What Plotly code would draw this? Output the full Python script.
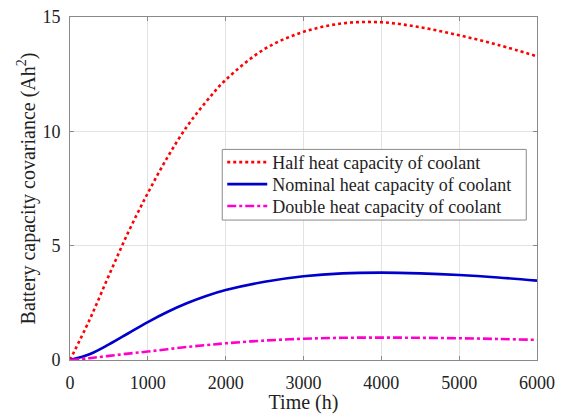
import plotly.graph_objects as go

time_h = [0, 250, 500, 750, 1000, 1250, 1500, 1750, 2000, 2500, 3000, 3500, 4000, 4500, 5000, 5500, 6000]
half_cov = [0, 1.75, 3.7, 5.6, 7.3, 8.85, 10.2, 11.3, 12.25, 13.6, 14.35, 14.72, 14.77, 14.55, 14.2, 13.78, 13.28]
nominal_cov = [0, 0.25, 0.68, 1.17, 1.66, 2.1, 2.48, 2.8, 3.06, 3.42, 3.66, 3.79, 3.82, 3.79, 3.72, 3.61, 3.47]
double_cov = [0, 0.08, 0.18, 0.28, 0.37, 0.47, 0.57, 0.65, 0.73, 0.85, 0.93, 0.97, 0.98, 0.97, 0.95, 0.92, 0.88]

series_names = ["Half heat capacity of coolant",
                "Nominal heat capacity of coolant",
                "Double heat capacity of coolant"]

x_ticks = [0, 1000, 2000, 3000, 4000, 5000, 6000]
y_ticks = [0, 5, 10, 15]

serif = "Liberation Serif, Times New Roman, serif"

fig = go.Figure()
fig.add_trace(go.Scatter(x=time_h, y=half_cov, mode="lines", line_shape="spline",
                         name=series_names[0], legend="legend",
                         line=dict(color="#ff0000", width=2.6, dash="dot")))
fig.add_trace(go.Scatter(x=time_h, y=nominal_cov, mode="lines", line_shape="spline",
                         name=series_names[1], legend="legend2",
                         line=dict(color="#0000cc", width=2.6)))
fig.add_trace(go.Scatter(x=time_h, y=double_cov, mode="lines", line_shape="spline",
                         name=series_names[2], legend="legend3",
                         line=dict(color="#ff00cc", width=2.6, dash="dashdot")))

axis_common = dict(showgrid=True, gridcolor="#e3e3e3", gridwidth=1,
                   showline=True, linecolor="#8a8a8a", linewidth=1, mirror="ticks",
                   ticks="inside", ticklen=4, tickcolor="#8a8a8a", automargin=False,
                   ticklabeloverflow="allow",
                   zeroline=False, tickfont=dict(family=serif, size=18, color="#222"))

fig.update_xaxes(range=[0, 6000], tickvals=x_ticks, ticklabelstandoff=6,
                 title=dict(text="Time (h)", font=dict(family=serif, size=20, color="#222"), standoff=2),
                 **axis_common)
fig.update_yaxes(range=[0, 15], tickvals=y_ticks, ticklabelstandoff=5,
                 title=dict(text="Battery capacity covariance (Ah<sup>2</sup>)",
                            font=dict(family=serif, size=20, color="#222"), standoff=1),
                 **axis_common)

legend_style = dict(xanchor="left", yanchor="middle", x=0.326,
                    bgcolor="rgba(0,0,0,0)", borderwidth=0,
                    font=dict(family=serif, size=18, color="#222"), itemwidth=40)

fig.update_layout(
    width=561, height=414,
    margin=dict(l=70, r=24, t=17, b=54),
    plot_bgcolor="white", paper_bgcolor="white",
    showlegend=True,
    legend=dict(y=0.576, **legend_style),
    legend2=dict(y=0.512, **legend_style),
    legend3=dict(y=0.448, **legend_style),
    shapes=[dict(type="rect", xref="paper", yref="paper",
                 x0=0.326, x1=0.977, y0=0.408, y1=0.614,
                 fillcolor="white", line=dict(color="#8a8a8a", width=1), layer="above")],
)

fig.write_html("out.html", config={"displayModeBar": False},
               post_script="document.body.style.margin='0';document.body.style.overflow='hidden';")
